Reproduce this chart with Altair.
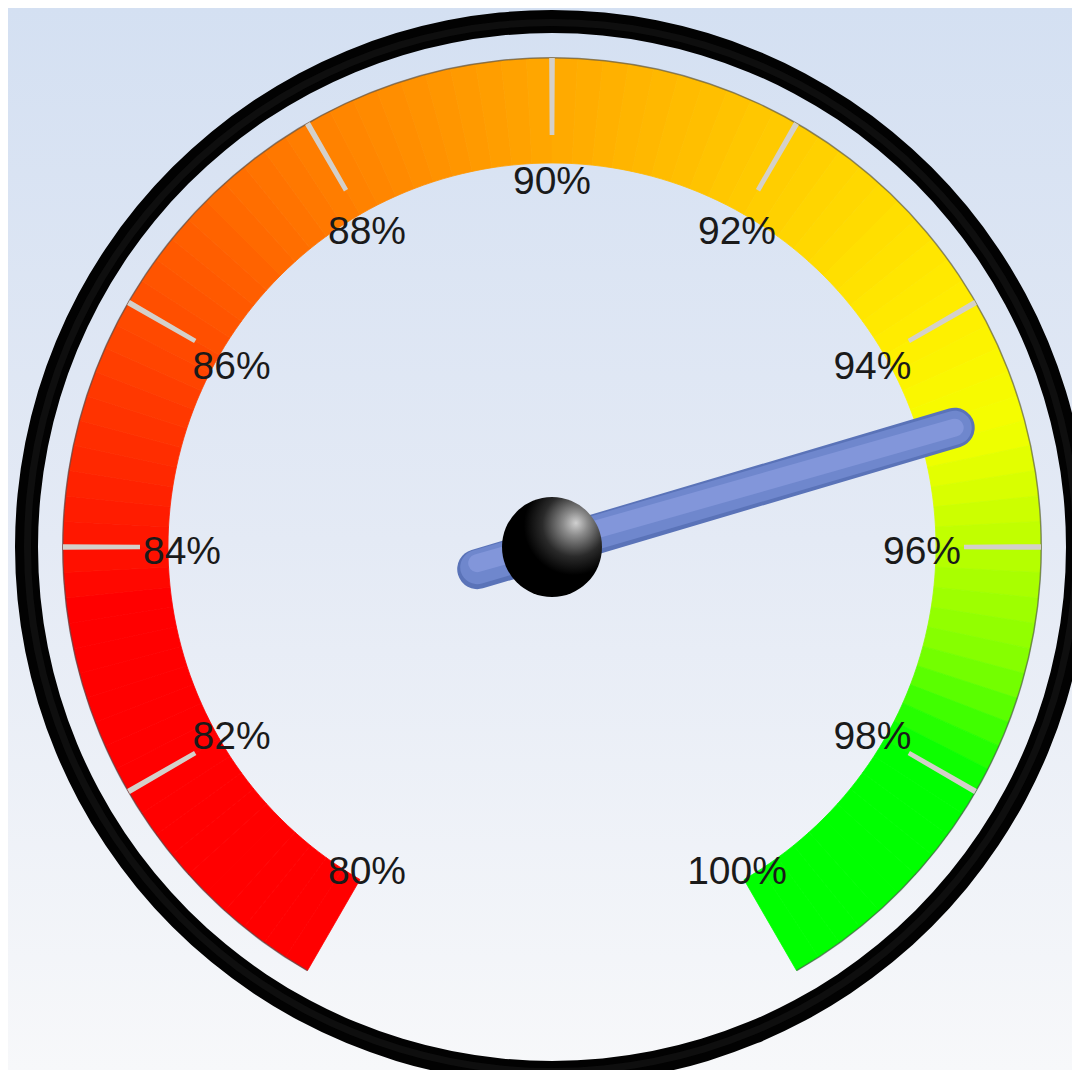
import math
import altair as alt
import numpy as np
import pandas as pd

# ---------------- data ----------------
gauge_min = 80
gauge_max = 100
tick_values = [82, 84, 86, 88, 90, 92, 94, 96, 98]
label_values = [80, 82, 84, 86, 88, 90, 92, 94, 96, 98, 100]
label_texts = ["80%", "82%", "84%", "86%", "88%", "90%", "92%", "94%", "96%", "98%", "100%"]
color_stops = [80, 83.5, 84, 85, 86, 87, 88, 89, 90, 91, 92, 93, 94, 95, 96, 97, 98, 100]
color_hex = ["#FF0000", "#FF0000", "#FF1400", "#FF3000", "#FF4C00", "#FF6600", "#FF8000",
             "#FF9400", "#FFA800", "#FFBA00", "#FFCC00", "#FFDD00", "#FFEE00", "#F4FF00",
             "#BBFF00", "#80FF00", "#00FF00", "#00FF00"]
needle_value = [94.9]

# ---------------- layout / style ----------------
W, H = 1064, 1062
CX, CY = 544, 539
R_OUT, R_IN = 489, 384
R_TICK = 412
R_LABEL = 370
NEEDLE_LEN, NEEDLE_TAIL = 420, 78
SWEEP = 5 * math.pi / 6

theta_scale = alt.Scale(domain=[gauge_min, gauge_max], range=[-SWEEP, SWEEP],
                        zero=False, nice=False)

step = 0.2
starts = np.round(np.arange(gauge_min, gauge_max, step), 3)
seg_df = pd.DataFrame({"v0": starts, "v1": np.round(starts + step, 3)})
seg_df["vm"] = (seg_df["v0"] + seg_df["v1"]) / 2

ticks_df = pd.DataFrame({"v": tick_values})
labels_df = pd.DataFrame({"v": label_values, "label": label_texts})
needle_df = pd.DataFrame({"v": needle_value})
one = pd.DataFrame({"k": [0]})
range_df = pd.DataFrame({"v0": [gauge_min], "v1": [gauge_max]})

# background
bg = alt.Chart(one).mark_rect(
    fill=alt.LinearGradient(
        gradient="linear",
        stops=[alt.GradientStop(offset=0, color="#D4E0F2"),
               alt.GradientStop(offset=0.5, color="#E4EAF5"),
               alt.GradientStop(offset=1, color="#F7F8FA")],
        x1=0, x2=0, y1=0, y2=1)
).encode(x=alt.value(0), x2=alt.value(W), y=alt.value(0), y2=alt.value(H))

# outer black ring
ring = alt.Chart(one).mark_arc(
    theta=0, theta2=2 * math.pi, radius=537, radius2=514, fill="#020202"
).encode(x=alt.value(CX), y=alt.value(CY))

ring_hi = alt.Chart(one).mark_arc(
    theta=0, theta2=2 * math.pi, radius=528, radius2=521, fill="#0e0e0e"
).encode(x=alt.value(CX), y=alt.value(CY))

color_scale = alt.Scale(domain=color_stops, range=color_hex, interpolate="rgb")

band = alt.Chart(seg_df).mark_arc(radius=R_OUT, radius2=R_IN, strokeWidth=0.8).encode(
    x=alt.value(CX), y=alt.value(CY),
    theta=alt.Theta("v0:Q", scale=theta_scale, stack=False),
    theta2="v1:Q",
    color=alt.Color("vm:Q", scale=color_scale, legend=None),
    stroke=alt.Stroke("vm:Q", scale=color_scale, legend=None),
)

outline = alt.Chart(range_df).mark_arc(
    radius=R_OUT + 1, radius2=R_OUT - 0.5, fill="#4a4a4a", opacity=0.6
).encode(
    x=alt.value(CX), y=alt.value(CY),
    theta=alt.Theta("v0:Q", scale=theta_scale, stack=False),
    theta2="v1:Q",
)

ticks = alt.Chart(ticks_df).transform_calculate(
    a="datum.v - 0.022", b="datum.v + 0.022"
).mark_arc(radius=R_OUT, radius2=R_TICK, fill="#D4D0CA").encode(
    x=alt.value(CX), y=alt.value(CY),
    theta=alt.Theta("a:Q", scale=theta_scale, stack=False),
    theta2="b:Q",
)

labels = alt.Chart(labels_df).mark_text(
    radius=R_LABEL, dy=5, fontSize=39, font="Liberation Sans", color="#1a1a1a",
    align="center", baseline="middle"
).encode(
    x=alt.value(CX), y=alt.value(CY),
    theta=alt.Theta("v:Q", scale=theta_scale, stack=False),
    text="label:N",
)

xs = alt.Scale(domain=[-CX, W - CX], zero=False, nice=False)
ys = alt.Scale(domain=[-(H - CY), CY], zero=False, nice=False)

needle_base = alt.Chart(needle_df).transform_calculate(
    ang=f"((datum.v - {gauge_min}) / ({gauge_max} - {gauge_min}) * 300 - 150) * PI / 180"
).transform_calculate(
    tx=f"{NEEDLE_LEN} * sin(datum.ang)",
    ty=f"{NEEDLE_LEN} * cos(datum.ang)",
    bx=f"-{NEEDLE_TAIL} * sin(datum.ang)",
    by=f"-{NEEDLE_TAIL} * cos(datum.ang)",
)

def needle_layer(width, color, yoff):
    return needle_base.mark_rule(
        strokeWidth=width, color=color, strokeCap="round", yOffset=yoff
    ).encode(
        x=alt.X("bx:Q", scale=xs, axis=None),
        x2="tx:Q",
        y=alt.Y("by:Q", scale=ys, axis=None),
        y2="ty:Q",
    )

n1 = needle_layer(40, "#5A73B8", 0)
n2 = needle_layer(34, "#6F87CD", -2)
n3 = needle_layer(18, "#8296DA", -6)

ball = alt.Chart(needle_df).mark_circle(
    size=100 * 100, opacity=1,
    fill=alt.RadialGradient(
        gradient="radial",
        stops=[alt.GradientStop(offset=0, color="#D0D0D0"),
               alt.GradientStop(offset=0.15, color="#8C8C8C"),
               alt.GradientStop(offset=0.4, color="#2A2A2A"),
               alt.GradientStop(offset=0.62, color="#000000"),
               alt.GradientStop(offset=1, color="#000000")],
        x1=0.74, y1=0.26, r1=0, x2=0.7, y2=0.3, r2=0.8)
).encode(x=alt.value(CX), y=alt.value(CY))

chart = alt.layer(
    bg, ring, ring_hi, band, outline, ticks, labels, n1, n2, n3, ball
).properties(
    width=W, height=H, padding=0, autosize=alt.AutoSizeParams(type="none")
).configure_view(stroke=None).configure(background="#D4E0F2")

chart.save("out.html", embed_options={"renderer": "svg", "actions": False})
